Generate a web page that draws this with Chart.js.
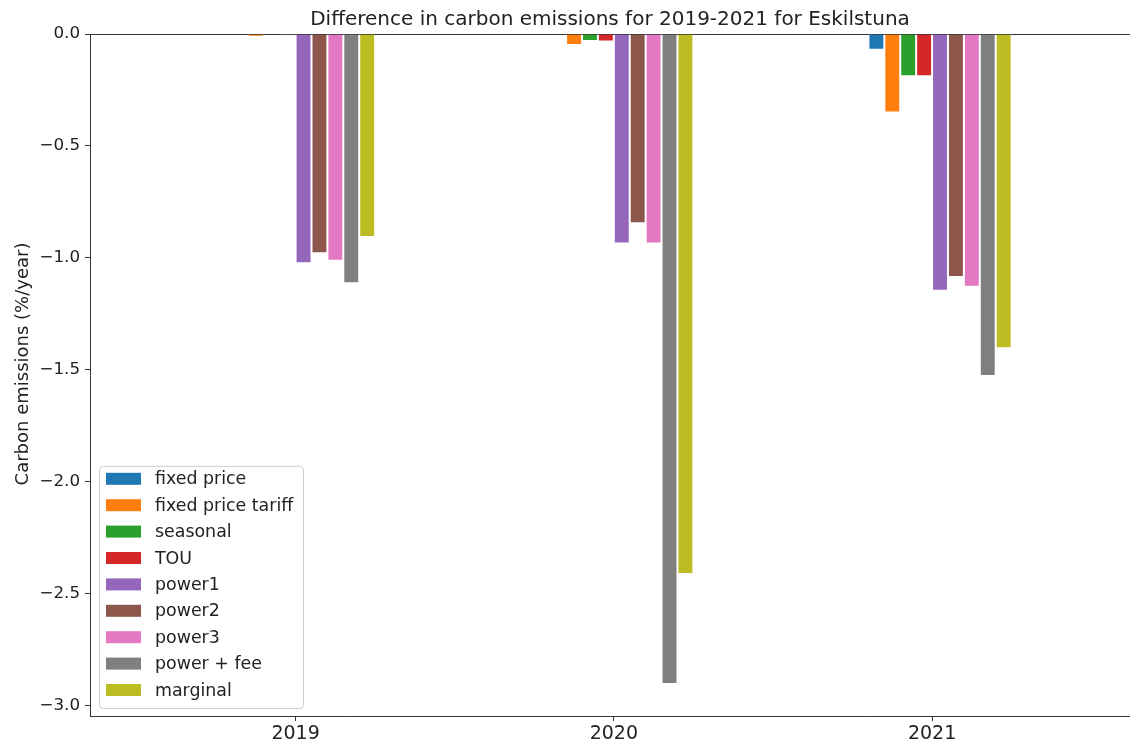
<!DOCTYPE html>
<html>
<head>
<meta charset="utf-8">
<title>Difference in carbon emissions for 2019-2021 for Eskilstuna</title>
<script src="https://cdn.jsdelivr.net/npm/chart.js@4.4.1/dist/chart.umd.min.js"></script>
<style>
  html, body { margin: 0; padding: 0; background: #ffffff; }
  canvas { display: block; }
</style>
</head>
<body>
<canvas id="chart" width="1130" height="745"></canvas>
<script>
// Years on the x axis
const years = [2019, 2020, 2021];

// Change in carbon emissions (%/year) per pricing scheme
const fixedPrice       = [0.000, 0.000, -0.070];
const fixedPriceTariff = [-0.012, -0.049, -0.351];
const seasonal         = [-0.002, -0.031, -0.189];
const tou              = [-0.004, -0.033, -0.189];
const power1           = [-1.024, -0.935, -1.146];
const power2           = [-0.979, -0.845, -1.085];
const power3           = [-1.012, -0.935, -1.129];
const powerFee         = [-1.113, -2.902, -1.527];
const marginal         = [-0.906, -2.411, -1.403];

const seriesNames  = ['fixed price', 'fixed price tariff', 'seasonal', 'TOU',
                      'power1', 'power2', 'power3', 'power + fee', 'marginal'];
const seriesValues = [fixedPrice, fixedPriceTariff, seasonal, tou,
                      power1, power2, power3, powerFee, marginal];
const seriesColors = ['#1f77b4', '#ff7f0e', '#2ca02c', '#d62728',
                      '#9467bd', '#8c564b', '#e377c2', '#7f7f7f', '#bcbd22'];

// Y tick positions
const yTickStep = 0.5;

const FONT = "'DejaVu Sans', 'Liberation Sans', sans-serif";
const TEXT = '#222222';
const AXIS = '#333333';

// An empty leading slot so each year's tick sits at the left edge of 'power1'
const datasets = [{
  label: '',
  data: years.map(() => null),
  backgroundColor: 'rgba(0,0,0,0)'
}].concat(seriesNames.map((name, i) => ({
  label: name,
  data: seriesValues[i],
  backgroundColor: seriesColors[i],
  borderColor: 'rgba(255,255,255,0.75)',
  borderWidth: 1
})));

// Boxed legend in the lower-left corner of the plot
const cornerLegend = {
  id: 'cornerLegend',
  afterDraw(chart) {
    const { ctx, chartArea } = chart;
    const items = chart.data.datasets.filter(d => d.label);
    const rowH = 26.4;
    const x0 = chartArea.left + 9;
    const w = 204;
    const h = 13 + (items.length - 1) * rowH + 18;
    const y0 = chartArea.bottom - 8 - h;
    ctx.save();
    ctx.beginPath();
    if (ctx.roundRect) ctx.roundRect(x0 + 0.5, y0 + 0.5, w, h, 4);
    else ctx.rect(x0 + 0.5, y0 + 0.5, w, h);
    ctx.fillStyle = 'rgba(255,255,255,0.8)';
    ctx.fill();
    ctx.strokeStyle = '#cccccc';
    ctx.lineWidth = 1;
    ctx.stroke();
    ctx.font = '17.4px ' + FONT;
    ctx.textBaseline = 'middle';
    ctx.textAlign = 'left';
    items.forEach((d, i) => {
      const cy = y0 + 13 + i * rowH;
      ctx.fillStyle = d.backgroundColor;
      ctx.fillRect(x0 + 7, cy - 6, 35, 12);
      ctx.fillStyle = TEXT;
      ctx.fillText(d.label, x0 + 56, cy + 1);
    });
    ctx.restore();
  }
};

// Rotated y-axis caption
const yCaption = {
  id: 'yCaption',
  afterDraw(chart) {
    const { ctx } = chart;
    ctx.save();
    ctx.translate(23, 364);
    ctx.rotate(-Math.PI / 2);
    ctx.font = '18px ' + FONT;
    ctx.fillStyle = TEXT;
    ctx.textAlign = 'center';
    ctx.textBaseline = 'middle';
    ctx.fillText('Carbon emissions (%/year)', 0, 0);
    ctx.restore();
  }
};

new Chart(document.getElementById('chart'), {
  type: 'bar',
  data: { labels: years, datasets },
  plugins: [cornerLegend, yCaption],
  options: {
    responsive: false,
    animation: false,
    devicePixelRatio: 1,
    layout: { padding: 0 },
    datasets: { bar: { categoryPercentage: 0.5, barPercentage: 1.0 } },
    plugins: {
      legend: { display: false },
      tooltip: { enabled: false },
      title: {
        display: true,
        text: 'Difference in carbon emissions for 2019-2021 for Eskilstuna',
        fullSize: false,
        color: TEXT,
        font: { family: FONT, size: 20, weight: 'normal' },
        padding: { top: 8, bottom: 2 }
      }
    },
    scales: {
      x: {
        type: 'linear',
        min: 2018.354,
        max: 2021.622,
        offset: false,
        grid: { display: true, offset: false, drawOnChartArea: false, tickLength: 5, tickColor: AXIS },
        border: { display: true, color: AXIS, width: 1 },
        ticks: {
          stepSize: 1,
          includeBounds: false,
          autoSkip: false,
          maxRotation: 0,
          padding: 2,
          color: TEXT,
          font: { family: FONT, size: 19 },
          callback: v => String(v)
        },
        afterFit: s => { s.height = 29; }
      },
      y: {
        min: -3.045,
        max: 0,
        grid: {
          display: true,
          drawOnChartArea: true,
          tickLength: 5,
          tickColor: AXIS,
          color: c => (c.tick && c.tick.value === 0 ? AXIS : 'rgba(0,0,0,0)')
        },
        border: { display: true, color: AXIS, width: 1 },
        ticks: {
          stepSize: yTickStep,
          includeBounds: false,
          padding: 5,
          color: TEXT,
          font: { family: FONT, size: 16.7 },
          callback: v => (v === 0 ? '0.0' : v.toFixed(1).replace('-', '\u2212'))
        },
        afterFit: s => { s.width = 90; }
      }
    }
  }
});
</script>
</body>
</html>
